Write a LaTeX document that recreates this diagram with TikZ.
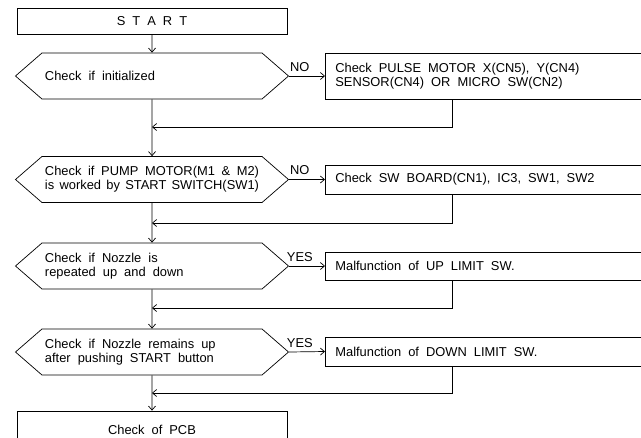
\documentclass[tikz,border=0pt]{standalone}
\usepackage{fontspec}
\setmainfont{Liberation Sans}
\usetikzlibrary{shapes,arrows,arrows.meta,positioning,calc}
\newcommand\flowspace{\spaceskip=6pt plus 2pt minus 3pt\relax}

\begin{document}
\begin{tikzpicture}[x=0.03cm, y=-0.03cm, line width=0.6pt, >={Straight Barb[length=3.5pt,width=6pt]},
    every node/.style={font=\fontsize{11}{12}\selectfont, execute at begin node=\flowspace},
    startbox/.style={draw, minimum width=8.1cm, minimum height=0.78cm, inner sep=0pt},
    checkbox/.style={draw, signal, signal to=west and east, signal pointer angle=82,
        minimum width=8.19cm, minimum height=1.38cm, text width=6.42cm, align=left, inner sep=0pt},
    faultbox/.style={draw, anchor=west, text width=9.5cm, align=left, inner xsep=0.3cm, inner ysep=0pt},
    answer/.style={above=2pt, inner sep=1.5pt, pos=0.3},
    flow/.style={->}]
            \useasboundingbox (0,0) rectangle (641,437);
            \clip (0,0) rectangle (641,437);

            % Start
            \node[startbox] (start) at (152,21) {S T A R T};

            % Checks
            \node[checkbox] (q1) at (152,76) {Check if initialized};
            \node[checkbox] (q2) at (152,179.5) {Check if PUMP MOTOR(M1 \& M2)\\is worked by START SWITCH(SW1)};
            \node[checkbox] (q3) at (152,266) {Check if Nozzle is\\repeated up and down};
            \node[checkbox] (q4) at (152,352) {Check if Nozzle remains up\\after pushing START button};

            % Faults
            \node[faultbox, minimum height=1.38cm] (f1) at (325,76) {Check PULSE MOTOR X(CN5), Y(CN4)\\SENSOR(CN4) OR MICRO SW(CN2)};
            \node[faultbox, minimum height=0.87cm] (f2) at (325,179.5) {Check SW BOARD(CN1), IC3, SW1, SW2};
            \node[faultbox, minimum height=0.84cm] (f3) at (325,266) {Malfunction of UP LIMIT SW.};
            \node[faultbox, minimum height=0.87cm] (f4) at (325,351.5) {Malfunction of DOWN LIMIT SW.};

            % End
            \node[startbox, minimum height=1.14cm] (pcb) at (152,430) {Check of PCB};

            % Return points
            \coordinate (r1) at (452,127);
            \coordinate (r2) at (452,223);
            \coordinate (r3) at (452,308);
            \coordinate (r4) at (452,393);
            \coordinate (j1) at (152,127);
            \coordinate (j2) at (152,223);
            \coordinate (j3) at (152,308);
            \coordinate (j4) at (152,393);

            % Main line
            \draw[flow] (start) -- (q1);
            \draw[flow] (q1) -- (q2);
            \draw[flow] (q2) -- (q3);
            \draw[flow] (q3) -- (q4);
            \draw[flow] (q4) -- (pcb);

            % Branches
            \draw[flow] (q1.east) -- node[answer] {NO} (f1.west);
            \draw[flow] (q2.east) -- node[answer] {NO} (f2.west);
            \draw[flow] (q3.east) -- node[answer] {YES} (f3.west);
            \draw[flow] (q4.east) -- node[answer] {YES} (f4.west);

            % Returns
            \draw[flow] (f1.south -| r1) -- (r1) -- (j1);
            \draw[flow] (f2.south -| r2) -- (r2) -- (j2);
            \draw[flow] (f3.south -| r3) -- (r3) -- (j3);
            \draw[flow] (f4.south -| r4) -- (r4) -- (j4);
\end{tikzpicture}
\end{document}
